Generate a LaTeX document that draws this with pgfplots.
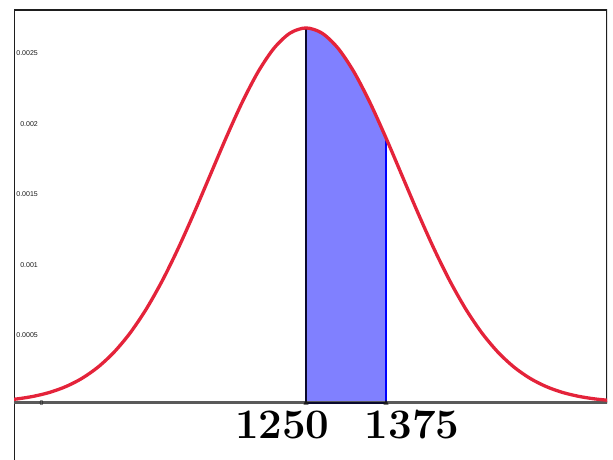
\documentclass[border=0pt]{standalone}
\usepackage{pgfplots}
\pgfplotsset{compat=1.18}
\usepackage{pgfplotstable}
\usepgfplotslibrary{fillbetween}
\usepackage{fontspec}
\newfontfamily\labelfont{Liberation Sans}

\definecolor{curvered}{RGB}{228,35,58}
\definecolor{areablue}{RGB}{128,128,255}
\definecolor{edgenavy}{RGB}{10,10,45}
\definecolor{axisgray}{RGB}{90,90,90}
\definecolor{framegray}{RGB}{30,30,30}

% Normal density, mean 1250, sd 150
\pgfplotstableread{
x y
775 0.000017676
800 0.000029545
825 0.000048040
850 0.000075975
875 0.00011685
900 0.00017481
925 0.00025438
950 0.00035994
975 0.00049540
1000 0.00066318
1025 0.00086344
1050 0.0010934
1075 0.0013467
1100 0.0016131
1125 0.0018794
1150 0.0021296
1175 0.0023471
1200 0.0025159
1225 0.0026229
1250 0.0026596
1275 0.0026229
1300 0.0025159
1325 0.0023471
1350 0.0021296
1375 0.0018794
1400 0.0016131
1425 0.0013467
1450 0.0010934
1475 0.00086344
1500 0.00066318
1525 0.00049540
1550 0.00035994
1575 0.00025438
1600 0.00017481
1625 0.00011685
1650 0.000075975
1675 0.000048040
1700 0.000029545
1725 0.000017676
}\density

\begin{document}
\begin{tikzpicture}
\begin{axis}[
  scale only axis,
  width=593pt, height=450pt,
  xmin=793.75, xmax=1720.3,
  ymin=-0.0004043, ymax=0.002787,
  axis line style={draw=none},
  major tick length=0pt,
  xtick=\empty,
  ytick={0.0005,0.001,0.0015,0.002,0.0025},
  yticklabels={0.0005,0.001,0.0015,0.002,0.0025},
  yticklabel style={font=\labelfont\fontsize{7}{8}\selectfont, text=black!90,
    anchor=east, inner sep=0pt, xshift=24pt, yshift=-3pt},
  clip=true,
]
  % frame
  \draw[framegray, line width=2pt] (axis cs:793.75,-0.0004043) -- (axis cs:793.75,0.002787)
     -- (axis cs:1720.3,0.002787) -- (axis cs:1720.3,0);
  % x axis
  \addplot[axisgray, line width=3pt] coordinates {(780,0) (1730,0)};

  \addplot[name path=curve, draw=none, smooth] table[x=x, y=y] {\density};
  \addplot[name path=base, draw=none] coordinates {(775,0) (1725,0)};
  \addplot[fill=areablue, draw=none] fill between[of=curve and base, soft clip={domain=1250:1375}];

  % edges of the shaded area
  \addplot[edgenavy, line width=2.8pt] coordinates {(1250,0) (1375,0)};
  \addplot[edgenavy, line width=2.8pt] coordinates {(1250,0) (1250,0.0026596)};
  \addplot[blue, line width=2pt] coordinates {(1375,0) (1375,0.0018794)};

  % density curve
  \addplot[curvered, line width=3.3pt, smooth] table[x=x, y=y] {\density};

  \addplot[only marks, mark=triangle*, mark size=2.6pt, color=black!90] coordinates {(1250,0) (1375,0)};

  \node[font=\labelfont\fontsize{7}{8}\selectfont, text=black!90, inner sep=0pt] at (axis cs:837,0) {0};
  \node[font=\fontsize{42}{48}\selectfont\bfseries, inner sep=0pt] at (axis cs:1213,-0.000156) {1250};
  \node[font=\fontsize{42}{48}\selectfont\bfseries, inner sep=0pt] at (axis cs:1416,-0.000156) {1375};

  \coordinate (sw) at (rel axis cs:0,0);
  \coordinate (ne) at (rel axis cs:1,1);
\end{axis}
\pgfresetboundingbox
\path ([xshift=-14pt]sw) rectangle ([xshift=6pt,yshift=10pt]ne);
\end{tikzpicture}
\end{document}
